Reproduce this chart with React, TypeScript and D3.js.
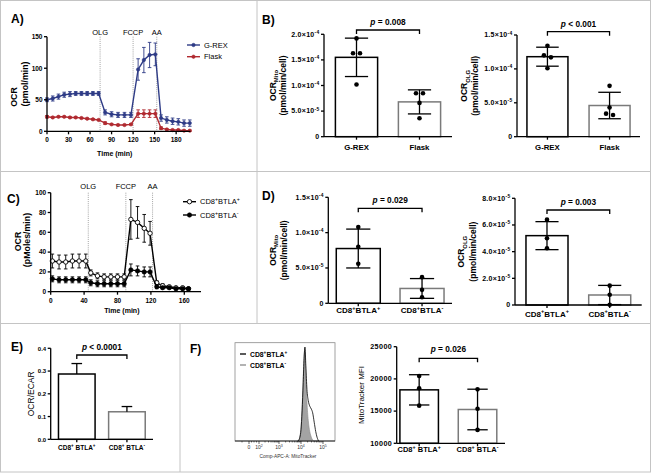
import * as d3 from 'd3';

const FONT = "'Liberation Sans', Arial, Helvetica, sans-serif";
const GRAY = '#7a7a7a';

// ---- A) OCR time course, G-REX vs Flask
const aTimes = [0, 8, 16, 24, 32, 40, 48, 56, 64, 72, 81, 90, 99, 108, 117, 127, 135, 143, 151, 159, 167, 175, 183, 191, 199];
const aGrex = [50, 52, 55, 58, 59, 60, 60, 60, 60, 60, 30, 27, 26, 26, 26, 98, 113, 121, 122, 21, 18, 16, 15, 13, 13];
const aGrexSd = [3, 4, 4, 4, 4, 3, 3, 3, 3, 3, 4, 4, 4, 4, 4, 17, 20, 20, 18, 5, 5, 5, 5, 5, 5];
const aFlask = [23, 22, 23, 23, 22, 22, 21, 20, 19, 18, 13, 11, 10, 10, 11, 28, 28, 28, 28, 5, 3, 2, 2, 1, 1];
const aFlaskSd = [2, 1, 1, 1, 1, 1, 1, 1, 1, 1, 2, 1, 1, 1, 1, 6, 6, 6, 6, 2, 1, 1, 1, 1, 1];
const aInjections = [{ name: 'OLG', t: 74 }, { name: 'FCCP', t: 120 }, { name: 'AA', t: 153 }];
const aXTicks = [0, 30, 60, 90, 120, 150, 180];
const aYTicks = [0, 50, 100, 150];

// ---- B) G-REX vs Flask bars
const bCats = ['G-REX', 'Flask'];
const bMitoMean = [1.55e-4, 0.68e-4];
const bMitoSd = [0.375e-4, 0.235e-4];
const bMitoPts = [[1.92e-4, 1.63e-4, 1.63e-4, 1.02e-4], [0.85e-4, 0.85e-4, 0.66e-4, 0.36e-4]];
const bOlgMean = [1.18e-4, 0.46e-4];
const bOlgSd = [0.14e-4, 0.195e-4];
const bOlgPts = [[1.34e-4, 1.2e-4, 1.17e-4, 1.01e-4], [0.75e-4, 0.43e-4, 0.34e-4, 0.32e-4]];
const bMitoTicks = [0, 5e-5, 1e-4, 1.5e-4, 2e-4];
const bOlgTicks = [0, 5e-5, 1e-4, 1.5e-4];

// ---- C) OCR time course, BTLA+ vs BTLA-
const cTimes = [2, 10, 18, 26, 34, 42, 48, 56, 64, 72, 80, 88, 96, 104, 112, 119, 127, 134, 142, 150, 158, 165];
const cPos = [31, 30, 30, 31, 31, 31, 19, 16, 15, 15, 15, 15, 73, 70, 64, 59, 9, 6, 5, 4, 4, 3];
const cPosSd = [7, 7, 7, 7, 7, 7, 3, 3, 3, 3, 3, 3, 20, 16, 14, 12, 2, 2, 1, 1, 1, 1];
const cNeg = [13, 12, 12, 12, 12, 12, 9, 8, 8, 8, 8, 8, 22, 21, 20, 20, 5, 4, 4, 3, 3, 3];
const cNegSd = [3, 3, 3, 3, 3, 3, 3, 3, 3, 3, 3, 3, 6, 5, 5, 5, 2, 1, 1, 1, 1, 1];
const cInjections = [{ name: 'OLG', t: 45 }, { name: 'FCCP', t: 90 }, { name: 'AA', t: 122 }];
const cXTicks = [0, 40, 80, 120, 160];
const cYTicks = [0, 20, 40, 60, 80, 100];

// ---- D) BTLA bars
const dCats = ['CD8^{+}BTLA^{+}', 'CD8^{+}BTLA^{-}'];
const dMitoMean = [0.775e-4, 0.21e-4];
const dMitoSd = [0.275e-4, 0.14e-4];
const dMitoPts = [[1.08e-4, 0.8e-4, 0.56e-4], [0.37e-4, 0.19e-4, 0.085e-4]];
const dOlgMean = [5.2e-5, 0.75e-5];
const dOlgSd = [1.05e-5, 0.72e-5];
const dOlgPts = [[6.4e-5, 5.0e-5, 4.25e-5], [1.45e-5, 0.77e-5, 0.02e-5]];
const dMitoTicks = [0, 5e-5, 1e-4, 1.5e-4];
const dOlgTicks = [0, 2e-5, 4e-5, 6e-5, 8e-5];

// ---- E) OCR/ECAR
const efCats = ['CD8^{+} BTLA^{+}', 'CD8^{+} BTLA^{-}'];
const eMean = [0.287, 0.121];
const eSd = [0.046, 0.023];
const eTicks = [0, 0.1, 0.2, 0.3, 0.4];

// ---- F) MitoTracker
const fMean = [18300, 15250];
const fSd = [2350, 3150];
const fPts = [[20450, 18540, 15850], [18380, 15370, 12080]];
const fTicks = [10000, 15000, 20000, 25000];
const histLog = [3.85, 3.9, 3.95, 4.0, 4.05, 4.1, 4.14, 4.18, 4.22, 4.27, 4.33, 4.4, 4.47, 4.53, 4.6, 4.67, 4.73, 4.8];
const histPos = [0, 0.01, 0.04, 0.12, 0.32, 0.62, 0.88, 1.0, 0.8, 0.55, 0.43, 0.37, 0.34, 0.3, 0.2, 0.1, 0.04, 0];
const histNeg = [0, 0.01, 0.05, 0.14, 0.35, 0.66, 0.9, 0.97, 0.72, 0.42, 0.22, 0.1, 0.04, 0.01, 0, 0, 0, 0];
const histTicks = [0, 2, 3, 4, 5];

// text with ^{sup} and _{sub}
function rich(s: string, fs: number) {
  const out: any[] = [];
  const re = /([\^_])\{([^}]*)\}/g;
  let last = 0, shift = 0, k = 0, m: RegExpExecArray | null;
  while ((m = re.exec(s))) {
    if (m.index > last) {
      out.push(<tspan key={k++} dy={-shift}>{s.slice(last, m.index)}</tspan>);
      shift = 0;
    }
    const d = m[1] === '^' ? -fs * 0.4 : fs * 0.3;
    out.push(<tspan key={k++} dy={d - shift} fontSize={fs * 0.7}>{m[2]}</tspan>);
    shift = d;
    last = re.lastIndex;
  }
  if (last < s.length) out.push(<tspan key={k++} dy={-shift}>{s.slice(last)}</tspan>);
  return out;
}

function sci(v: number) {
  if (v === 0) return '0';
  const e = Math.floor(Math.log10(v) + 1e-9);
  return `${(v / Math.pow(10, e)).toFixed(1)}×10^{${e}}`;
}

type Box = { left: number; right: number; top: number; bottom: number };
type TCSeries = { name: string; values: number[]; sd: number[]; color: string; marker: string };

function TimeCourse(p: {
  times: number[]; series: TCSeries[]; injections: { name: string; t: number }[];
  xDomain: number[]; yDomain: number[]; xTicks: number[]; yTicks: number[]; box: Box;
  titles: { text: string; x: number; y: number }[]; injY: number; xLabY: number; xTitleY: number;
  legX: number; legY: number[]; legTextX: number; r: number;
}) {
  const x = d3.scaleLinear().domain(p.xDomain).range([p.box.left, p.box.right]);
  const y = d3.scaleLinear().domain(p.yDomain).range([p.box.bottom, p.box.top]);
  const line = d3.line<number>().x((_, i) => x(p.times[i])).y(d => y(d));
  const cap = 1.8;
  const marker = (s: TCSeries, cx: number, cy: number, key: any) =>
    <circle key={key} cx={cx} cy={cy} r={p.r} fill={s.marker === 'open' ? '#fff' : s.color}
      stroke={s.color} strokeWidth={s.marker === 'open' ? 0.9 : 0.6} />;
  return (
    <g>
      {p.injections.map(inj => (
        <g key={inj.name}>
          <line x1={x(inj.t)} x2={x(inj.t)} y1={p.box.top} y2={p.box.bottom} stroke="#9a9a9a" strokeWidth={0.9} strokeDasharray="1 1.1" />
          <text x={x(inj.t)} y={p.injY} textAnchor="middle" fontSize={7.5}>{inj.name}</text>
        </g>
      ))}
      {p.series.map(s => (
        <g key={s.name}>
          {s.values.map((v, i) => {
            const cx = x(p.times[i]);
            const hi = y(v + s.sd[i]), lo = y(Math.max(0, v - s.sd[i]));
            return (
              <g key={i} stroke={s.color} strokeWidth={0.9}>
                <line x1={cx} x2={cx} y1={hi} y2={lo} />
                <line x1={cx - cap} x2={cx + cap} y1={hi} y2={hi} />
                <line x1={cx - cap} x2={cx + cap} y1={lo} y2={lo} />
              </g>
            );
          })}
          <path d={line(s.values) || ''} fill="none" stroke={s.color} strokeWidth={1.4} />
          {s.values.map((v, i) => marker(s, x(p.times[i]), y(v), i))}
        </g>
      ))}
      <g stroke="#000" strokeWidth={1.3}>
        <line x1={p.box.left} x2={p.box.left} y1={p.box.bottom} y2={y(p.yDomain[1])} />
        <line x1={p.box.left} x2={p.box.right} y1={p.box.bottom} y2={p.box.bottom} />
        {p.yTicks.map(t => <line key={t} x1={p.box.left - 3} x2={p.box.left} y1={y(t)} y2={y(t)} />)}
        {p.xTicks.map(t => <line key={t} x1={x(t)} x2={x(t)} y1={p.box.bottom} y2={p.box.bottom + 3} />)}
      </g>
      {p.yTicks.map(t => (
        <text key={t} x={p.box.left - 4.5} y={y(t) + 2.3} textAnchor="end" fontSize={6.5} fontWeight="bold">{t}</text>
      ))}
      {p.xTicks.map(t => (
        <text key={t} x={x(t)} y={p.xLabY} textAnchor="middle" fontSize={6.5} fontWeight="bold">{t}</text>
      ))}
      <text x={(p.box.left + p.box.right) / 2 - 4} y={p.xTitleY} textAnchor="middle" fontSize={7} fontWeight="bold">Time (min)</text>
      {p.titles.map(t => (
        <text key={t.text} transform={`translate(${t.x},${t.y}) rotate(-90)`} textAnchor="middle" fontSize={8.8} fontWeight="bold">{t.text}</text>
      ))}
      {p.series.map((s, i) => (
        <g key={s.name}>
          <line x1={p.legX} x2={p.legX + 13} y1={p.legY[i]} y2={p.legY[i]} stroke={s.color} strokeWidth={1.4} />
          {marker(s, p.legX + 6.5, p.legY[i], 'm')}
          <text x={p.legTextX} y={p.legY[i] + 2.6} fontSize={7.5}>{rich(s.name, 7.5)}</text>
        </g>
      ))}
    </g>
  );
}

function jitter(vals: number[], y: (v: number) => number, thr: number, sp: number) {
  const idx = vals.map((_, i) => i).sort((a, b) => y(vals[a]) - y(vals[b]));
  const off = vals.map(() => 0);
  let i = 0;
  while (i < idx.length) {
    let j = i + 1;
    while (j < idx.length && Math.abs(y(vals[idx[j]]) - y(vals[idx[j - 1]])) < thr) j++;
    const n = j - i;
    for (let k = i; k < j; k++) off[idx[k]] = (k - i - (n - 1) / 2) * sp;
    i = j;
  }
  return off;
}

function BarChart(p: {
  cats: string[]; mean: number[]; sd: number[]; points?: number[][]; domain: number[]; ticks: number[];
  fmt: (v: number) => string; box: Box; axisEnd?: number; pad: number; barFrac: number; capFrac: number;
  halfError?: boolean; titles: { text: string; x: number }[]; titleBold?: boolean; titleFs?: number;
  bracketY: number; pText: string; pY: number; catY: number; catFs: number; tickFs: number; tickSp?: number;
}) {
  const x = d3.scalePoint<string>().domain(p.cats).range([p.box.left, p.box.right]).padding(p.pad);
  const y = d3.scaleLinear().domain(p.domain).range([p.box.bottom, p.box.top]);
  const bw = x.step() * p.barFrac;
  const cw = bw * p.capFrac;
  const base = y(p.domain[0]);
  const axisEnd = p.axisEnd ?? p.box.right;
  const r = 2.3;
  const c0 = x(p.cats[0])!, c1 = x(p.cats[1])!;
  const midY = (p.box.top + p.box.bottom) / 2;
  const tfs = p.titleFs ?? 8.5;
  return (
    <g>
      {p.cats.map((c, i) => {
        const cx = x(c)!;
        const m = p.mean[i], sd = p.sd[i];
        const hi = y(m + sd), lo = p.halfError ? y(m) : y(m - sd);
        const pts = p.points ? p.points[i] : [];
        const off = jitter(pts, y, 2 * r + 0.4, 7);
        return (
          <g key={c}>
            <rect x={cx - bw / 2} y={y(m)} width={bw} height={base - y(m)} fill="#fff" stroke={i === 0 ? '#000' : GRAY} strokeWidth={1.5} />
            <g stroke="#000" strokeWidth={1.3}>
              <line x1={cx} x2={cx} y1={hi} y2={lo} />
              <line x1={cx - cw / 2} x2={cx + cw / 2} y1={hi} y2={hi} />
              {!p.halfError && <line x1={cx - cw / 2} x2={cx + cw / 2} y1={lo} y2={lo} />}
            </g>
            {pts.map((v, j) => <circle key={j} cx={cx + off[j]} cy={y(v)} r={r} fill="#000" />)}
          </g>
        );
      })}
      <g stroke="#000" strokeWidth={1.3}>
        <line x1={p.box.left} x2={p.box.left} y1={base} y2={y(p.domain[1])} />
        <line x1={p.box.left} x2={axisEnd} y1={base} y2={base} />
        {p.ticks.map(t => <line key={t} x1={p.box.left - 3} x2={p.box.left} y1={y(t)} y2={y(t)} />)}
        {p.cats.map(c => <line key={c} x1={x(c)} x2={x(c)} y1={base} y2={base + 3} />)}
        <path d={`M${c0},${p.bracketY + 4}V${p.bracketY}H${c1}V${p.bracketY + 4}`} fill="none" />
      </g>
      {p.ticks.map(t => (
        <text key={t} x={p.box.left - 4.5} y={y(t) + 2.3} textAnchor="end" fontSize={p.tickFs} fontWeight="bold"
          letterSpacing={p.tickSp ?? 0}>{rich(p.fmt(t), p.tickFs)}</text>
      ))}
      {p.cats.map(c => (
        <text key={c} x={x(c)} y={p.catY} textAnchor="middle" fontSize={p.catFs} fontWeight="bold">{rich(c, p.catFs)}</text>
      ))}
      <text x={(c0 + c1) / 2} y={p.pY} textAnchor="middle" fontSize={8.3} fontWeight="bold">
        <tspan fontStyle="italic">p</tspan> {p.pText}
      </text>
      {p.titles.map(t => (
        <text key={t.text} transform={`translate(${t.x},${midY}) rotate(-90)`} textAnchor="middle" fontSize={tfs}
          fontWeight={p.titleBold ? 'bold' : 'normal'}>{rich(t.text, tfs)}</text>
      ))}
    </g>
  );
}

function Histogram() {
  const frame = { left: 235, right: 335, top: 342.7, bottom: 441 };
  const x = d3.scaleLinear().domain([-0.6, 0, 2, 3, 4, 5, 5.5]).range([235, 249, 259, 279, 301, 323, 335]);
  const y = d3.scaleLinear().domain([0, 1]).range([frame.bottom, 347]);
  const area = d3.area<number>().x((_, i) => x(histLog[i])).y0(frame.bottom).y1(d => y(d)).curve(d3.curveMonotoneX);
  const line = d3.line<number>().x((_, i) => x(histLog[i])).y(d => y(d)).curve(d3.curveMonotoneX);
  const minor: number[] = [-0.3, 0.5, 1, 1.5];
  for (let k = 2; k < 5; k++) for (let m = 2; m < 10; m++) minor.push(k + Math.log10(m));
  const legend = [{ label: 'CD8^{+}BTLA^{+}', color: '#000' }, { label: 'CD8^{+}BTLA^{-}', color: '#8a8a8a' }];
  return (
    <g>
      <rect x={frame.left} y={frame.top} width={frame.right - frame.left} height={frame.bottom - frame.top} fill="none" stroke="#8a8a8a" strokeWidth={0.8} />
      <path d={area(histNeg) || ''} fill="#a3a3a3" stroke="#8a8a8a" strokeWidth={0.6} />
      <path d={line(histPos) || ''} fill="none" stroke="#000" strokeWidth={0.8} />
      <line x1={frame.left} x2={frame.right} y1={frame.bottom} y2={frame.bottom} stroke="#000" strokeWidth={0.8} />
      {minor.map(t => <line key={t} x1={x(t)} x2={x(t)} y1={frame.bottom} y2={frame.bottom + 1.5} stroke="#000" strokeWidth={0.5} />)}
      {histTicks.map(t => <line key={t} x1={x(t)} x2={x(t)} y1={frame.bottom} y2={frame.bottom + 3} stroke="#000" strokeWidth={0.6} />)}
      {histTicks.map(t => (
        <text key={t} x={x(t)} y={449} textAnchor="middle" fontSize={5} fill="#333">{rich(t === 0 ? '0' : `10^{${t}}`, 5)}</text>
      ))}
      <text x={288} y={458} textAnchor="middle" fontSize={4.8} fill="#333">Comp-APC-A: MitoTracker</text>
      {legend.map((l, i) => (
        <g key={i}>
          <line x1={240} x2={246} y1={354 + i * 11} y2={354 + i * 11} stroke={l.color} strokeWidth={1.3} />
          <text x={250} y={356.5 + i * 11} fontSize={6.8} fontWeight="bold">{rich(l.label, 6.8)}</text>
        </g>
      ))}
    </g>
  );
}

function PanelLabel({ x, y, t }: { x: number; y: number; t: string }) {
  return <text x={x} y={y} fontSize={12} fontWeight="bold">{t}</text>;
}

export default function App() {
  const aSeries: TCSeries[] = [
    { name: 'G-REX', values: aGrex, sd: aGrexSd, color: '#2e3b86', marker: 'dot' },
    { name: 'Flask', values: aFlask, sd: aFlaskSd, color: '#b02a30', marker: 'dot' },
  ];
  const cSeries: TCSeries[] = [
    { name: 'CD8^{+}BTLA^{+}', values: cPos, sd: cPosSd, color: '#000', marker: 'open' },
    { name: 'CD8^{+}BTLA^{-}', values: cNeg, sd: cNegSd, color: '#000', marker: 'filled' },
  ];
  const fmtE = (v: number) => d3.format('.1f')(v);
  const fmtF = (v: number) => String(v);
  return (
    <svg width={652} height={473} style={{ position: 'absolute', left: 0, top: 0 }} fontFamily={FONT}>
      <rect x={0} y={0} width={652} height={473} fill="#fff" />
      <g stroke="#c4c4c4" strokeWidth={1} fill="none">
        <rect x={0.5} y={0.5} width={650} height={471.5} />
        <line x1={0} x2={651} y1={171.5} y2={171.5} />
        <line x1={0} x2={651} y1={323.5} y2={323.5} />
        <line x1={257} x2={257} y1={0} y2={323.5} />
        <line x1={180} x2={180} y1={323.5} y2={472} />
      </g>

      <PanelLabel x={11} y={22.5} t="A)" />
      <TimeCourse times={aTimes} series={aSeries} injections={aInjections} xDomain={[0, 200]} yDomain={[0, 150]}
        xTicks={aXTicks} yTicks={aYTicks} box={{ left: 47, right: 190.5, top: 36.7, bottom: 131.3 }}
        titles={[{ text: 'OCR', x: 17, y: 97 }, { text: '(pmol/min)', x: 27.5, y: 84 }]}
        injY={34.5} xLabY={141.5} xTitleY={155.5} legX={187} legY={[45, 56.7]} legTextX={204} r={1.7} />

      <PanelLabel x={262} y={24} t="B)" />
      <BarChart cats={bCats} mean={bMitoMean} sd={bMitoSd} points={bMitoPts} domain={[0, 2e-4]} ticks={bMitoTicks} fmt={sci}
        box={{ left: 324, right: 452, top: 34.3, bottom: 136.7 }} pad={0.516} barFrac={0.67} capFrac={0.55}
        titles={[{ text: 'OCR_{Mito}', x: 275.5 }, { text: '(pmol/min/cell)', x: 285.5 }]} titleBold
        bracketY={30} pText="= 0.008" pY={25} catY={149.5} catFs={7.8} tickFs={7} tickSp={0.3} />
      <BarChart cats={bCats} mean={bOlgMean} sd={bOlgSd} points={bOlgPts} domain={[0, 1.5e-4]} ticks={bOlgTicks} fmt={sci}
        box={{ left: 517, right: 640, top: 35, bottom: 136.7 }} pad={0.49} barFrac={0.66} capFrac={0.55}
        titles={[{ text: 'OCR_{OLG}', x: 467 }, { text: '(pmol/min/cell)', x: 478 }]} titleBold
        bracketY={31.7} pText="< 0.001" pY={27} catY={149.5} catFs={7.8} tickFs={7} tickSp={0.3} />

      <PanelLabel x={7} y={202.5} t="C)" />
      <TimeCourse times={cTimes} series={cSeries} injections={cInjections} xDomain={[0, 180]} yDomain={[0, 100]}
        xTicks={cXTicks} yTicks={cYTicks} box={{ left: 50.7, right: 201, top: 192.7, bottom: 291.7 }}
        titles={[{ text: 'OCR', x: 20.5, y: 241.5 }, { text: '(pMoles/min)', x: 29.5, y: 240 }]}
        injY={188.5} xLabY={302.5} xTitleY={312.5} legX={183} legY={[201.7, 215]} legTextX={200} r={2.2} />

      <PanelLabel x={262} y={199.5} t="D)" />
      <BarChart cats={dCats} mean={dMitoMean} sd={dMitoSd} points={dMitoPts} domain={[0, 1.5e-4]} ticks={dMitoTicks} fmt={sci}
        box={{ left: 328.3, right: 452, top: 197.3, bottom: 303.3 }} pad={0.47} barFrac={0.69} capFrac={0.55}
        titles={[{ text: 'OCR_{Mito}', x: 275.5 }, { text: '(pmol/min/cell)', x: 287 }]} titleBold
        bracketY={208.3} pText="= 0.029" pY={203} catY={313} catFs={8} tickFs={7} tickSp={0.3} />
      <BarChart cats={dCats} mean={dOlgMean} sd={dOlgSd} points={dOlgPts} domain={[0, 8e-5]} ticks={dOlgTicks} fmt={sci}
        box={{ left: 515, right: 641.7, top: 198.3, bottom: 305 }} pad={0.51} barFrac={0.67} capFrac={0.55}
        titles={[{ text: 'OCR_{OLG}', x: 464 }, { text: '(pmol/min/cell)', x: 475.5 }]} titleBold
        bracketY={210} pText="= 0.003" pY={204.5} catY={316.5} catFs={8} tickFs={7} tickSp={0.3} />

      <PanelLabel x={11} y={351} t="E)" />
      <BarChart cats={efCats} mean={eMean} sd={eSd} domain={[0, 0.4]} ticks={eTicks} fmt={fmtE}
        box={{ left: 50.7, right: 153, top: 348.3, bottom: 439.3 }} pad={0.52} barFrac={0.73} capFrac={0.29} halfError
        titles={[{ text: 'OCR/ECAR', x: 34 }]} titleFs={8.5}
        bracketY={355} pText="< 0.0001" pY={350} catY={450} catFs={6.5} tickFs={6} />

      <PanelLabel x={190} y={352.5} t="F)" />
      <Histogram />
      <BarChart cats={efCats} mean={fMean} sd={fSd} points={fPts} domain={[10000, 25000]} ticks={fTicks} fmt={fmtF}
        box={{ left: 396.7, right: 500, top: 346.7, bottom: 443.3 }} axisEnd={505} pad={0.385} barFrac={0.66} capFrac={0.53}
        titles={[{ text: 'MitoTracker MFI', x: 363.5 }]} titleFs={8}
        bracketY={358.3} pText="= 0.026" pY={352} catY={452} catFs={7.5} tickFs={7.2} tickSp={0.4} />
    </svg>
  );
}
